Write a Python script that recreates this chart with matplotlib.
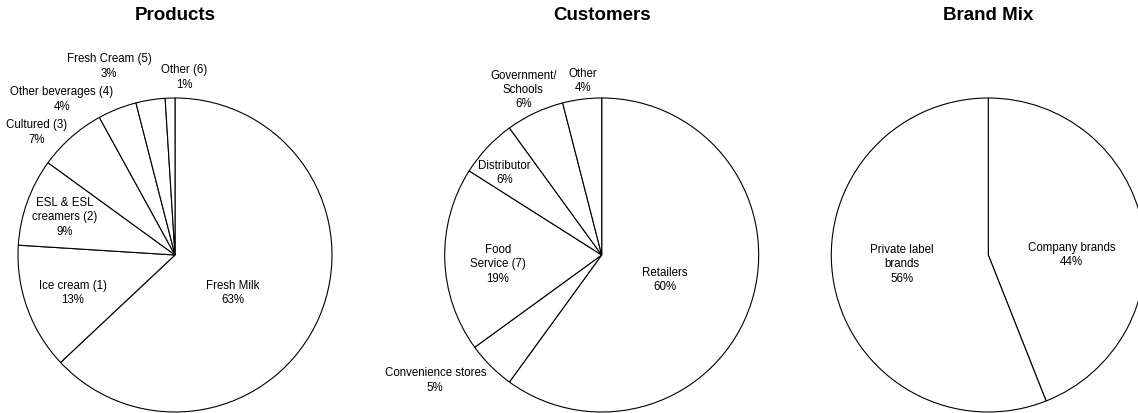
import matplotlib.pyplot as plt

plt.rcParams['font.family'] = ['Liberation Sans', 'DejaVu Sans']

# data (clockwise from 12 o'clock)
product_names = ["Fresh Milk", "Ice cream (1)", "ESL & ESL\ncreamers (2)", "Cultured (3)",
                 "Other beverages (4)", "Fresh Cream (5)", "Other (6)"]
product_shares = [63, 13, 9, 7, 4, 3, 1]

customer_names = ["Retailers", "Convenience stores", "Food\nService (7)", "Distributor",
                  "Government/\nSchools", "Other"]
customer_shares = [60, 5, 19, 6, 6, 4]

brand_names = ["Company brands", "Private label\nbrands"]
brand_shares = [44, 56]

# label positions, in pie radius units from the centre
product_label_pos = [(0.37, -0.24), (-0.65, -0.24), (-0.70, 0.24), (-0.88, 0.78),
                     (-0.72, 0.99), (-0.42, 1.20), (0.06, 1.13)]
customer_label_pos = [(0.40, -0.16), (-1.06, -0.80), (-0.66, -0.06), (-0.62, 0.52),
                      (-0.50, 1.05), (-0.12, 1.11)]
brand_label_pos = [(0.53, 0.0), (-0.55, -0.06)]

W, H = 1138, 413
R = 157   # pie radius in px
L = 1.05  # axes half-size in radius units

fig = plt.figure(figsize=(W / 100, H / 100), dpi=100)


def draw_pie(cx, cy, title, names, shares, label_pos):
    ax = fig.add_axes([(cx - L * R) / W, (H - cy - L * R) / H, 2 * L * R / W, 2 * L * R / H])
    ax.pie(shares, startangle=90, counterclock=False, colors=["white"] * len(shares),
           wedgeprops=dict(edgecolor="black", linewidth=0.8))
    ax.set_xlim(-L, L)
    ax.set_ylim(-L, L)
    ax.set_aspect("equal")
    ax.axis("off")
    for name, share, (x, y) in zip(names, shares, label_pos):
        ax.text(x, y, f"{name}\n{share}%", ha="center", va="center", fontsize=8.3,
                linespacing=1.25)
    fig.text(cx / W, 1 - 15 / H, title, ha="center", va="center", fontsize=13.5,
             fontweight="bold")


draw_pie(175, 255, "Products", product_names, product_shares, product_label_pos)
draw_pie(601.7, 255, "Customers", customer_names, customer_shares, customer_label_pos)
draw_pie(988.3, 255, "Brand Mix", brand_names, brand_shares, brand_label_pos)

fig.savefig("out.png", dpi=100)
